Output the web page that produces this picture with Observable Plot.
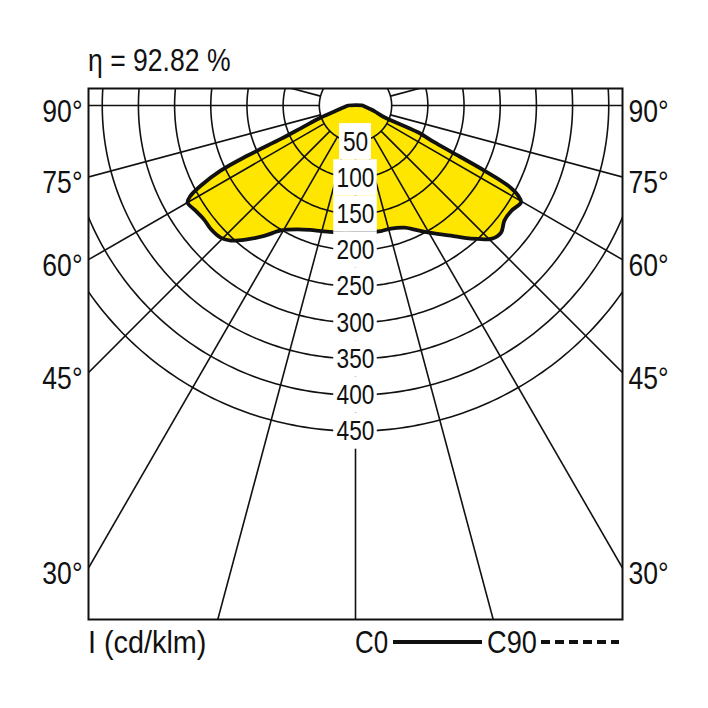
<!DOCTYPE html>
<html><head><meta charset="utf-8">
<script src="https://cdn.jsdelivr.net/npm/d3@7"></script>
<script src="https://cdn.jsdelivr.net/npm/@observablehq/plot@0.6"></script>
<style>
body{margin:0;background:#fff;font-family:"Liberation Sans",Arial,sans-serif;color:#111;}
#wrap{position:relative;width:708px;height:708px;overflow:hidden;}
#title{position:absolute;left:88px;top:40px;font-size:32px;line-height:40px;white-space:nowrap;transform:scaleX(0.83);transform-origin:0 50%;}
#chart{position:absolute;left:0;top:80px;}
#legend{position:absolute;top:622px;left:0;width:708px;height:40px;font-size:32px;line-height:40px;}
#legend span{position:absolute;top:0;white-space:nowrap;}
#legend .txt{transform-origin:0 50%;}
#legend .solid{top:18px;height:4px;background:#111;}
#legend .dash{top:18px;height:4px;background:repeating-linear-gradient(90deg,#111 0 9px,transparent 9px 14px);}
</style>
</head><body>
<div id="wrap">
  <div id="title">η = 92.82 %</div>
  <div id="chart"></div>
  <div id="legend">
    <span class="txt" style="left:88px;transform:scaleX(0.9)">I (cd/klm)</span>
    <span class="txt" style="left:355px;transform:scaleX(0.81)">C0</span>
    <span class="solid" style="left:393px;width:89px"></span>
    <span class="txt" style="left:487px;transform:scaleX(0.85)">C90</span>
    <span class="dash" style="left:541px;width:78px"></span>
  </div>
</div>
<script>
// ---- data ----
const ringValues = [50, 100, 150, 200, 250, 300, 350, 400, 450];
const ringLabels = ["50", "100", "150", "200", "250", "300", "350", "400", "450"];
const spokeAngles = [0, 15, 30, 45, 60, 75, 90, 105, 120, 135, 150, 165, 180, 195, 210, 225, 240, 255, 270, 285, 300, 315, 330, 345];
const angleTicks = [90, 75, 60, 45, 30];
const angleTickLabels = ["90°", "75°", "60°", "45°", "30°"];
// C0 curve: gamma angle (deg, negative = C180 side) and intensity (cd/klm)
const c0Angles = [-90, -85, -80, -75, -71, -67.4, -65.9, -65.1, -64.2, -62.6, -61.3, -60, -57, -53, -49.5, -45.6, -42.7, -39, -35, -30.8, -25.1, -20, -15.4, -11, -5, 0,
  5, 11.5, 16.1, 21.9, 25.5, 29.7, 33, 36.3, 39.5, 42.5, 45.5, 48.9, 52.3, 56, 59.7, 61, 62.3, 63.2, 64.2, 65.0, 66.8, 67.9, 71, 75, 80, 85, 90];
const c0Values = [10, 13, 18, 28, 50, 82, 113, 165, 207, 241, 260, 268, 265, 262, 263, 261, 254, 238, 220, 201, 189, 183, 180, 178, 177, 176,
  176, 177, 177, 182, 190, 202, 212, 223, 237, 250, 263, 267, 260, 260, 265, 257, 238, 200, 147, 120, 94, 43, 32, 24, 16, 12, 10];

// ---- geometry helpers ----
const k = 0.7236; // px per cd/klm
const rad = d => d * Math.PI / 180;
const pol = (deg, r) => ({x: r * Math.sin(rad(deg)), y: -r * Math.cos(rad(deg))});
const xMax = 369;

const ringPts = ringValues.flatMap(r => d3.range(0, 361, 1).map(a => ({ring: r, ...pol(a, r)})));
const spokes = spokeAngles.map(a => {
  const p1 = pol(a, 50), p2 = pol(a, 1300);
  return {a, x1: p1.x, y1: p1.y, x2: p2.x, y2: p2.y};
});
const curve = c0Angles.map((a, i) => ({a, ...pol(a, c0Values[i])}));
const labels = ringValues.map((r, i) => ({r, label: ringLabels[i], hw: (ringLabels[i].length * 11.5 + 9) / 2 / k}));
const tickPts = angleTicks.map((t, i) => ({label: angleTickLabels[i], y: t >= 90 ? 0 : -xMax / Math.tan(rad(t))}));

const font = '"Liberation Sans",Arial,sans-serif';

const plot = Plot.plot({
  width: 708,
  height: 552,
  marginLeft: 88,
  marginRight: 86,
  marginTop: 8,
  marginBottom: 13,
  x: {domain: [-xMax, xMax], axis: null},
  y: {domain: [23.5 - 531 / k, 23.5], axis: null},
  style: {fontFamily: font, background: "white", color: "#111"},
  marks: [
    Plot.line(curve, {x: "x", y: "y", curve: "catmull-rom-closed", fill: "#ffe600", stroke: "none"}),
    Plot.line(ringPts, {x: "x", y: "y", z: "ring", stroke: "#111", strokeWidth: 1.6, clip: true}),
    Plot.link(spokes, {x1: "x1", y1: "y1", x2: "x2", y2: "y2", stroke: "#111", strokeWidth: 1.6, clip: true}),
    Plot.line(curve, {x: "x", y: "y", curve: "catmull-rom-closed", stroke: "#111", strokeWidth: 3.8, strokeLinejoin: "round"}),
    Plot.rect(labels, {x1: d => -d.hw, x2: d => d.hw, y1: d => -d.r - 25, y2: d => -d.r + 25, fill: "white"}),
    Plot.text(labels, {x: 0, y: d => -d.r, text: "label", fontSize: 28, fill: "#111", className: "ringlab"}),
    Plot.text(tickPts, {x: -xMax, y: "y", text: "label", textAnchor: "end", dx: -6, dy: 6, fontSize: 32, fill: "#111"}),
    Plot.text(tickPts, {x: xMax, y: "y", text: "label", textAnchor: "start", dx: 6, dy: 6, fontSize: 32, fill: "#111"}),
    Plot.frame({stroke: "#111", strokeWidth: 2})
  ]
});

// condense the text horizontally (no condensed font installed)
plot.querySelectorAll("text").forEach(t => {
  const sx = t.closest(".ringlab") ? 0.81 : 0.83;
  const tr = t.getAttribute("transform") || "";
  const xa = t.getAttribute("x");
  if (xa !== null && isFinite(+xa)) t.setAttribute("x", (+xa) / sx);
  t.setAttribute("transform", `${tr} scale(${sx},1)`);
});
document.getElementById("chart").appendChild(plot);
</script>
</body></html>
